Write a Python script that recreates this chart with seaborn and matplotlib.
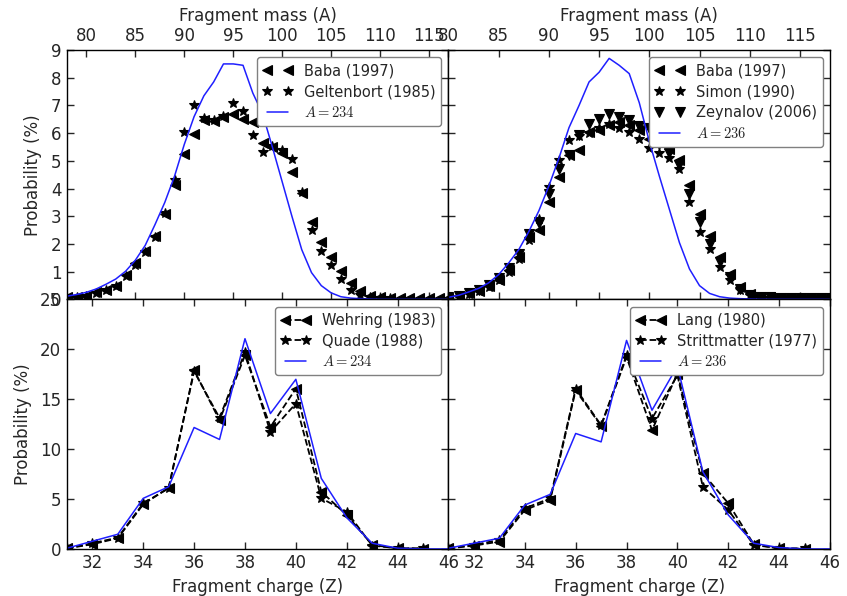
import numpy as np
import matplotlib
matplotlib.use("Agg")
import matplotlib.pyplot as plt
import seaborn as sns

# ---- fragment mass distributions (top row) ----
mass_234 = list(range(78, 118))
model_234 = [0.12, 0.18, 0.26, 0.38, 0.55, 0.74, 1.02, 1.42, 1.95, 2.7,
             3.5, 4.45, 5.6, 6.6, 7.35, 7.85, 8.5, 8.5, 8.45, 7.45,
             6.7, 5.5, 4.25, 3.0, 1.8, 0.97, 0.5, 0.24, 0.1, 0.05,
             0.03, 0.02, 0.01, 0.01, 0.01, 0.01, 0.01, 0.01, 0.01, 0.01]
baba_234 = [0.08, 0.1, 0.14, 0.26, 0.35, 0.5, 0.87, 1.31, 1.75, 2.28,
            3.1, 4.12, 5.24, 5.96, 6.49, 6.44, 6.59, 6.69, 6.53, 6.41,
            5.63, 5.5, 5.29, 4.6, 3.84, 2.79, 2.07, 1.53, 1.02, 0.59,
            0.3, 0.14, 0.08, 0.06, 0.05, 0.05, 0.05, 0.05, 0.05, 0.05]
gelt_mass = list(range(78, 112))
gelt_234 = [0.07, 0.09, 0.13, 0.22, 0.33, 0.48, 0.85, 1.23, 1.7, 2.25,
            3.12, 4.3, 6.05, 7.03, 6.56, 6.47, 6.61, 7.1, 6.8, 5.95,
            5.32, 5.53, 5.38, 5.08, 3.88, 2.52, 1.75, 1.26, 0.75, 0.35,
            0.18, 0.08, 0.05, 0.04]

mass_236 = list(range(80, 119))
model_236 = [0.08, 0.15, 0.27, 0.4, 0.6, 0.9, 1.32, 1.8, 2.45, 3.2,
             4.1, 5.1, 6.2, 7.0, 7.85, 8.2, 8.7, 8.45, 8.15, 7.1,
             5.7, 4.45, 3.25, 2.05, 1.1, 0.5, 0.22, 0.1, 0.05, 0.03,
             0.02, 0.01, 0.01, 0.01, 0.01, 0.01, 0.01, 0.01, 0.01]
baba_236 = [0.07, 0.12, 0.22, 0.32, 0.48, 0.72, 1.05, 1.53, 2.25, 2.52,
            3.5, 4.42, 5.2, 5.41, 6.05, 6.1, 6.3, 6.4, 6.3, 6.1,
            5.8, 5.84, 5.44, 5.02, 4.12, 3.1, 2.28, 1.53, 0.93, 0.44,
            0.2, 0.1, 0.08, 0.07, 0.07, 0.07, 0.07, 0.07, 0.07]
simon_236 = [0.06, 0.1, 0.2, 0.3, 0.45, 0.7, 1.0, 1.45, 2.16, 2.9,
             4.06, 5.02, 5.75, 5.9, 5.99, 6.2, 6.35, 6.2, 6.05, 5.8,
             5.45, 5.3, 5.1, 4.72, 3.52, 2.43, 1.83, 1.17, 0.69, 0.35,
             0.15, 0.08, 0.06, 0.05, 0.05, 0.05, 0.05, 0.05, 0.05]
zeyn_236 = [0.08, 0.14, 0.25, 0.36, 0.52, 0.78, 1.15, 1.65, 2.35, 2.75,
            3.8, 4.7, 5.2, 5.93, 6.35, 6.53, 6.69, 6.59, 6.47, 6.25,
            6.17, 5.6, 5.3, 4.85, 3.8, 2.8, 2.0, 1.35, 0.8, 0.38,
            0.18, 0.1, 0.08, 0.07, 0.07, 0.07, 0.07, 0.07, 0.07]

# ---- fragment charge distributions (bottom row) ----
charge = list(range(31, 47))
zmodel_234 = [0.07, 0.77, 1.47, 5.07, 6.23, 12.17, 10.97, 21.07, 13.57, 17.0,
              7.07, 3.13, 0.57, 0.07, 0.0, 0.0]
data_charge = list(range(31, 46))
wehring_234 = [0.05, 0.47, 1.07, 4.47, 6.13, 17.9, 12.9, 19.4, 12.23, 16.07,
               5.73, 3.4, 0.4, 0.05, 0.02]
quade_234 = [0.05, 0.57, 1.13, 4.57, 6.07, 17.8, 13.13, 19.73, 11.73, 14.57,
             5.07, 3.73, 0.33, 0.07, 0.07]
zmodel_236 = [0.07, 0.57, 1.07, 4.4, 5.47, 11.57, 10.73, 20.9, 13.9, 18.33,
              7.73, 3.4, 0.57, 0.13, 0.0, 0.0]
lang_236 = [0.05, 0.33, 0.73, 3.9, 4.9, 15.9, 12.33, 19.23, 11.9, 17.57,
            7.57, 4.57, 0.47, 0.05, 0.02]
stritt_236 = [0.05, 0.4, 0.9, 4.07, 5.07, 16.07, 12.4, 19.4, 13.07, 17.4,
              6.23, 3.9, 0.4, 0.05, 0.05]

mass_ticks = [80, 85, 90, 95, 100, 105, 110, 115]
charge_ticks = [32, 34, 36, 38, 40, 42, 44, 46]
prob_ticks_mass = list(range(0, 10))
prob_ticks_charge = [0, 5, 10, 15, 20, 25]

sns.set_style("ticks")
plt.rcParams.update({
    "font.family": ["DejaVu Sans"],
    "mathtext.fontset": "cm",
    "xtick.direction": "in",
    "ytick.direction": "in",
    "axes.linewidth": 1.0,
    "axes.edgecolor": "black",
})

fig, axes = plt.subplots(2, 2, figsize=(8.47, 5.96), dpi=100)
fig.subplots_adjust(left=0.079, right=0.98, top=0.916, bottom=0.079,
                    wspace=0, hspace=0)
(ax_tl, ax_tr), (ax_bl, ax_br) = axes

mk = dict(color="black", markeredgecolor="black", markeredgewidth=0.8)
blue = "#1f1fff"


def style_points(ax, x, y, marker, size, label):
    sns.lineplot(x=x, y=y, ax=ax, marker=marker, linestyle="none",
                 markersize=size, label=label, **mk)


def style_dashed(ax, x, y, marker, size, label):
    sns.lineplot(x=x, y=y, ax=ax, marker=marker, linestyle="--",
                 linewidth=1.3, markersize=size, label=label, **mk)


# top left: A = 234
style_points(ax_tl, mass_234, baba_234, "<", 7, "Baba (1997)")
style_points(ax_tl, gelt_mass, gelt_234, "*", 7.5, "Geltenbort (1985)")
sns.lineplot(x=mass_234, y=model_234, ax=ax_tl, color=blue, linewidth=1.1,
             label="$A=234$")

# top right: A = 236
style_points(ax_tr, mass_236, baba_236, "<", 7, "Baba (1997)")
style_points(ax_tr, mass_236, simon_236, "*", 7.5, "Simon (1990)")
style_points(ax_tr, mass_236, zeyn_236, "v", 7, "Zeynalov (2006)")
sns.lineplot(x=mass_236, y=model_236, ax=ax_tr, color=blue, linewidth=1.1,
             label="$A=236$")

# bottom left
style_dashed(ax_bl, data_charge, wehring_234, "<", 7, "Wehring (1983)")
style_dashed(ax_bl, data_charge, quade_234, "*", 7.5, "Quade (1988)")
sns.lineplot(x=charge, y=zmodel_234, ax=ax_bl, color=blue, linewidth=1.1,
             label="$A=234$")

# bottom right
style_dashed(ax_br, data_charge, lang_236, "<", 7, "Lang (1980)")
style_dashed(ax_br, data_charge, stritt_236, "*", 7.5, "Strittmatter (1977)")
sns.lineplot(x=charge, y=zmodel_236, ax=ax_br, color=blue, linewidth=1.1,
             label="$A=236$")

for ax in axes.flat:
    ax.tick_params(which="both", direction="in", top=True, right=True,
                   labelsize=12, length=5, width=1, pad=4)
    for s in ax.spines.values():
        s.set_visible(True)
        s.set_linewidth(1.0)
    leg = ax.legend(loc="upper right", numpoints=2, fontsize=10.5,
                    frameon=True, fancybox=True, framealpha=1,
                    edgecolor="0.5", handlelength=2.0, borderaxespad=0.5,
                    labelspacing=0.4)
    leg.get_frame().set_linewidth(1.0)

# top row: mass axis on top
ax_tl.set_xlim(78, 117)
ax_tr.set_xlim(80, 118)
for ax in (ax_tl, ax_tr):
    ax.set_ylim(0, 9)
    ax.set_yticks(prob_ticks_mass)
    ax.set_xticks(mass_ticks)
    ax.xaxis.set_ticks_position("both")
    ax.xaxis.set_label_position("top")
    ax.tick_params(axis="x", labeltop=True, labelbottom=False)
    ax.set_xlabel("Fragment mass (A)", fontsize=12, labelpad=4)

# bottom row: charge axis
for ax in (ax_bl, ax_br):
    ax.set_xlim(31, 46)
    ax.set_ylim(0, 25)
    ax.set_yticks(prob_ticks_charge)
    ax.set_xticks(charge_ticks)
    ax.set_xlabel("Fragment charge (Z)", fontsize=12, labelpad=4)

for ax in (ax_tl, ax_bl):
    ax.set_ylabel("Probability (%)", fontsize=12, labelpad=6)
for ax in (ax_tr, ax_br):
    ax.set_ylabel("")
    ax.tick_params(axis="y", labelleft=False)

fig.savefig("out.png", dpi=100)
